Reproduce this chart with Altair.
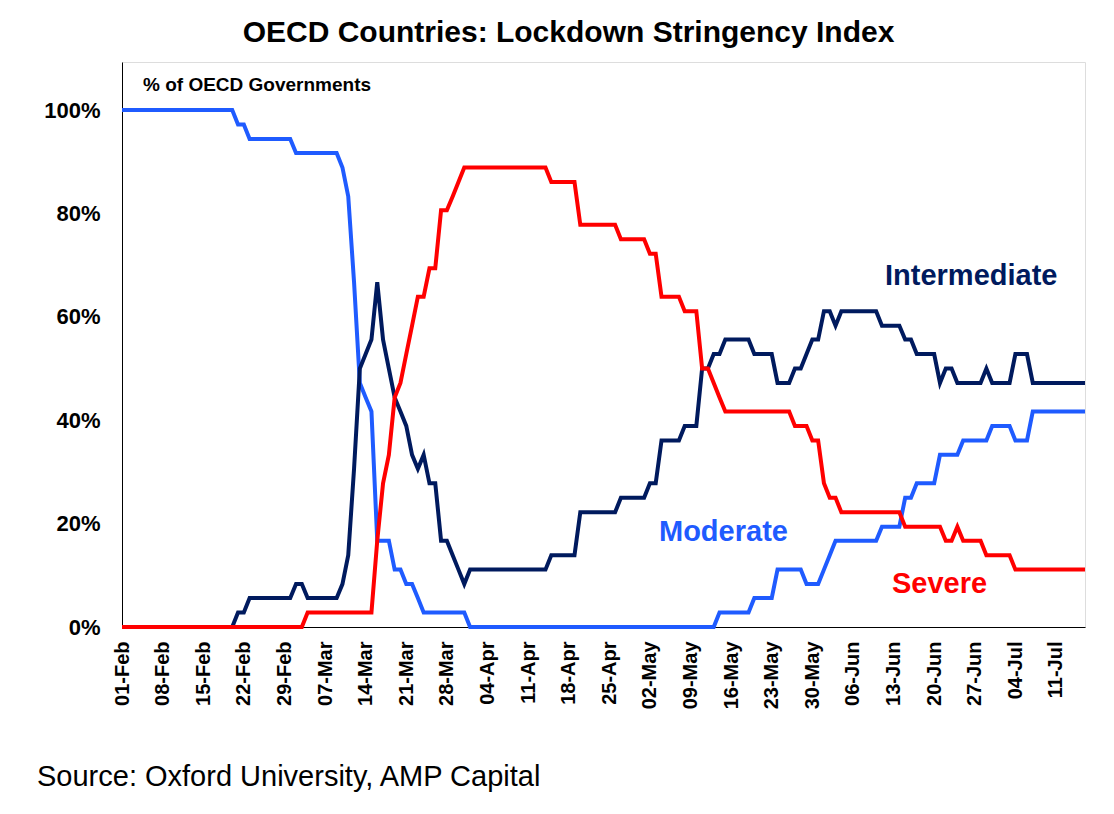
import altair as alt
import pandas as pd

FONT = "Liberation Sans"

SERIES = ["Moderate", "Intermediate", "Severe"]
COLORS = ["#1F5BFF", "#001A5E", "#FF0000"]

# share of OECD governments (%) at the dates where each line changes direction
MODERATE_DATES = [
    "2020-02-01", "2020-02-20", "2020-02-21", "2020-02-22", "2020-02-23", "2020-03-01",
    "2020-03-02", "2020-03-09", "2020-03-10", "2020-03-11", "2020-03-12", "2020-03-13",
    "2020-03-14", "2020-03-15", "2020-03-16", "2020-03-18", "2020-03-19", "2020-03-20",
    "2020-03-21", "2020-03-22", "2020-03-23", "2020-03-24", "2020-03-31", "2020-04-01",
    "2020-05-13", "2020-05-14", "2020-05-19", "2020-05-20", "2020-05-23", "2020-05-24",
    "2020-05-28", "2020-05-29", "2020-05-31", "2020-06-01", "2020-06-02", "2020-06-03",
    "2020-06-10", "2020-06-11", "2020-06-14", "2020-06-15", "2020-06-16", "2020-06-17",
    "2020-06-20", "2020-06-21", "2020-06-24", "2020-06-25", "2020-06-29", "2020-06-30",
    "2020-07-03", "2020-07-04", "2020-07-06", "2020-07-07", "2020-07-16",
]
MODERATE_PCT = [
    100.0, 100.0, 97.2, 97.2, 94.4, 94.4,
    91.7, 91.7, 88.9, 83.3, 66.7, 47.2,
    44.4, 41.7, 16.7, 16.7, 11.1, 11.1,
    8.3, 8.3, 5.6, 2.8, 2.8, 0.0,
    0.0, 2.8, 2.8, 5.6, 5.6, 11.1,
    11.1, 8.3, 8.3, 11.1, 13.9, 16.7,
    16.7, 19.4, 19.4, 25.0, 25.0, 27.8,
    27.8, 33.3, 33.3, 36.1, 36.1, 38.9,
    38.9, 36.1, 36.1, 41.7, 41.7,
]

INTERMEDIATE_DATES = [
    "2020-02-01", "2020-02-20", "2020-02-21", "2020-02-22", "2020-02-23", "2020-03-01",
    "2020-03-02", "2020-03-03", "2020-03-04", "2020-03-09", "2020-03-10", "2020-03-11",
    "2020-03-12", "2020-03-13", "2020-03-14", "2020-03-15", "2020-03-16", "2020-03-17",
    "2020-03-18", "2020-03-19", "2020-03-20", "2020-03-21", "2020-03-22", "2020-03-23",
    "2020-03-24", "2020-03-25", "2020-03-26", "2020-03-27", "2020-03-28", "2020-03-29",
    "2020-03-30", "2020-03-31", "2020-04-01", "2020-04-14", "2020-04-15", "2020-04-19",
    "2020-04-20", "2020-04-26", "2020-04-27", "2020-05-01", "2020-05-02", "2020-05-03",
    "2020-05-04", "2020-05-07", "2020-05-08", "2020-05-10", "2020-05-11", "2020-05-12",
    "2020-05-13", "2020-05-14", "2020-05-15", "2020-05-19", "2020-05-20", "2020-05-23",
    "2020-05-24", "2020-05-26", "2020-05-27", "2020-05-28", "2020-05-29", "2020-05-30",
    "2020-05-31", "2020-06-01", "2020-06-02", "2020-06-03", "2020-06-04", "2020-06-10",
    "2020-06-11", "2020-06-14", "2020-06-15", "2020-06-16", "2020-06-17", "2020-06-20",
    "2020-06-21", "2020-06-22", "2020-06-23", "2020-06-24", "2020-06-28", "2020-06-29",
    "2020-06-30", "2020-07-03", "2020-07-04", "2020-07-06", "2020-07-07", "2020-07-16",
]
INTERMEDIATE_PCT = [
    0.0, 0.0, 2.8, 2.8, 5.6, 5.6,
    8.3, 8.3, 5.6, 5.6, 8.3, 13.9,
    30.6, 50.0, 52.8, 55.6, 66.7, 55.6,
    50.0, 44.4, 41.7, 38.9, 33.3, 30.6,
    33.3, 27.8, 27.8, 16.7, 16.7, 13.9,
    11.1, 8.3, 11.1, 11.1, 13.9, 13.9,
    22.2, 22.2, 25.0, 25.0, 27.8, 27.8,
    36.1, 36.1, 38.9, 38.9, 50.0, 50.0,
    52.8, 52.8, 55.6, 55.6, 52.8, 52.8,
    47.2, 47.2, 50.0, 50.0, 52.8, 55.6,
    55.6, 61.1, 61.1, 58.3, 61.1, 61.1,
    58.3, 58.3, 55.6, 55.6, 52.8, 52.8,
    47.2, 50.0, 50.0, 47.2, 47.2, 50.0,
    47.2, 47.2, 52.8, 52.8, 47.2, 47.2,
]

SEVERE_DATES = [
    "2020-02-01", "2020-03-03", "2020-03-04", "2020-03-15", "2020-03-16", "2020-03-17",
    "2020-03-18", "2020-03-19", "2020-03-20", "2020-03-21", "2020-03-22", "2020-03-23",
    "2020-03-24", "2020-03-25", "2020-03-26", "2020-03-27", "2020-03-28", "2020-03-29",
    "2020-03-30", "2020-03-31", "2020-04-14", "2020-04-15", "2020-04-19", "2020-04-20",
    "2020-04-26", "2020-04-27", "2020-05-01", "2020-05-02", "2020-05-03", "2020-05-04",
    "2020-05-07", "2020-05-08", "2020-05-10", "2020-05-11", "2020-05-12", "2020-05-13",
    "2020-05-14", "2020-05-15", "2020-05-26", "2020-05-27", "2020-05-29", "2020-05-30",
    "2020-05-31", "2020-06-01", "2020-06-02", "2020-06-03", "2020-06-04", "2020-06-14",
    "2020-06-15", "2020-06-21", "2020-06-22", "2020-06-23", "2020-06-24", "2020-06-25",
    "2020-06-28", "2020-06-29", "2020-07-03", "2020-07-04", "2020-07-16",
]
SEVERE_PCT = [
    0.0, 0.0, 2.8, 2.8, 16.7, 27.8,
    33.3, 44.4, 47.2, 52.8, 58.3, 63.9,
    63.9, 69.4, 69.4, 80.6, 80.6, 83.3,
    86.1, 88.9, 88.9, 86.1, 86.1, 77.8,
    77.8, 75.0, 75.0, 72.2, 72.2, 63.9,
    63.9, 61.1, 61.1, 50.0, 50.0, 47.2,
    44.4, 41.7, 41.7, 38.9, 38.9, 36.1,
    36.1, 27.8, 25.0, 25.0, 22.2, 22.2,
    19.4, 19.4, 16.7, 16.7, 19.4, 16.7,
    16.7, 13.9, 13.9, 11.1, 11.1,
]

TICK_DATES = [
    "2020-02-01", "2020-02-08", "2020-02-15", "2020-02-22", "2020-02-29", "2020-03-07",
    "2020-03-14", "2020-03-21", "2020-03-28", "2020-04-04", "2020-04-11", "2020-04-18",
    "2020-04-25", "2020-05-02", "2020-05-09", "2020-05-16", "2020-05-23", "2020-05-30",
    "2020-06-06", "2020-06-13", "2020-06-20", "2020-06-27", "2020-07-04", "2020-07-11",
]
X_START, X_END = "2020-02-01", "2020-07-16"
Y_TICKS = [0, 20, 40, 60, 80, 100]


def to_dt(s):
    y, m, d = (int(p) for p in s.split("-"))
    return alt.DateTime(year=y, month=m, date=d, utc=True)


frames = []
for name, dates, pct in [
    ("Moderate", MODERATE_DATES, MODERATE_PCT),
    ("Intermediate", INTERMEDIATE_DATES, INTERMEDIATE_PCT),
    ("Severe", SEVERE_DATES, SEVERE_PCT),
]:
    frames.append(pd.DataFrame({"date": dates, "pct": pct, "series": name}))
df = pd.concat(frames, ignore_index=True)

lines = (
    alt.Chart(df)
    .mark_line(strokeWidth=4)
    .encode(
        x=alt.X(
            "date:T",
            title=None,
            scale=alt.Scale(type="utc", domain=[to_dt(X_START), to_dt(X_END)], nice=False),
            axis=alt.Axis(
                values=[to_dt(t) for t in TICK_DATES],
                labelExpr="utcFormat(datum.value, '%d-%b')",
                labelAngle=-90,
                labelPadding=14,
                labelFont=FONT,
                labelFontSize=20,
                labelFontWeight="bold",
                labelColor="black",
                ticks=False,
                grid=False,
                domainColor="black",
                labelOverlap=False,
            ),
        ),
        y=alt.Y(
            "pct:Q",
            title=None,
            scale=alt.Scale(domain=[0, 109.3], nice=False),
            axis=alt.Axis(
                values=Y_TICKS,
                labelExpr="datum.value + '%'",
                labelPadding=22,
                labelFont=FONT,
                labelFontSize=22,
                labelFontWeight="bold",
                labelColor="black",
                ticks=False,
                grid=False,
                domainColor="black",
            ),
        ),
        color=alt.Color("series:N", scale=alt.Scale(domain=SERIES, range=COLORS), legend=None),
    )
)


def note(text, x, y, size, color="black", weight="bold", align="left"):
    return (
        alt.Chart(pd.DataFrame({"t": [text]}))
        .mark_text(align=align, baseline="middle", font=FONT, fontSize=size,
                   fontWeight=weight, color=color)
        .encode(text="t:N", x=alt.value(x), y=alt.value(y))
    )


chart = (
    alt.layer(
        lines,
        note("% of OECD Governments", 21, 23, 19),
        note(SERIES[1], 763, 214, 29, COLORS[1]),
        note(SERIES[0], 537, 470, 29, COLORS[0]),
        note(SERIES[2], 770, 522, 29, COLORS[2]),
        note("Source: Oxford University, AMP Capital", -85, 715, 29, weight="normal"),
    )
    .properties(
        width=963,
        height=565,
        title=alt.TitleParams(
            "OECD Countries: Lockdown Stringency Index",
            font=FONT,
            fontSize=30,
            fontWeight="bold",
            color="black",
            anchor="middle",
            dx=-35,
            offset=14,
        ),
        autosize=alt.AutoSizeParams(type="none"),
        padding={"left": 114, "top": 54, "right": 20, "bottom": 180},
    )
    .configure_view(stroke="#595959", strokeWidth=1)
    .configure(background="white")
)

chart.save("out.html", embed_options={"renderer": "svg", "actions": False})
